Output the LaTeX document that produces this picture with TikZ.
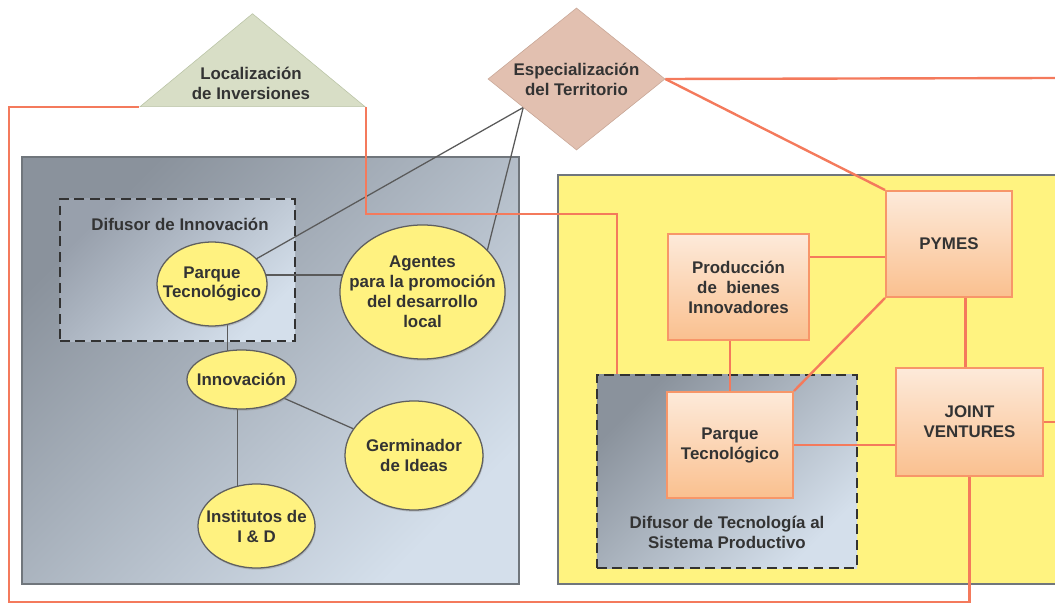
\documentclass[tikz,border=0pt]{standalone}
\usepackage{fontspec}
\setmainfont{Liberation Sans}
\usepackage{tikz}
\usetikzlibrary{
    positioning,
    shapes.geometric,
    shadows,
    calc
}
\usepackage{xcolor}
\definecolor{linkorange}{RGB}{244,122,92}
\definecolor{boxline}{RGB}{247,150,105}
\definecolor{boxtop}{RGB}{253,234,218}
\definecolor{boxbottom}{RGB}{250,192,143}
\definecolor{yellowzone}{RGB}{255,243,128}
\definecolor{bubblefill}{RGB}{255,242,128}
\definecolor{bubbleline}{RGB}{95,95,95}
\definecolor{textgray}{RGB}{51,51,51}
\definecolor{panelline}{RGB}{112,118,124}
\definecolor{steeldark}{RGB}{138,146,156}
\definecolor{steellight}{RGB}{212,223,235}
\definecolor{trifill}{RGB}{216,222,198}
\definecolor{triline}{RGB}{186,196,166}
\definecolor{diafill}{RGB}{226,192,176}
\definecolor{dialine}{RGB}{200,166,150}
\definecolor{linkgray}{RGB}{90,90,90}
\definecolor{dashgray}{RGB}{50,50,50}

\pgfdeclarelayer{panels}
\pgfdeclarelayer{links}
\pgfsetlayers{panels,links,main}

\begin{document}
\begin{tikzpicture}[
    x=0.025cm, y=-0.025cm,
    txt/.style={font=\fontsize{12}{14.2}\selectfont\bfseries, text=textgray, align=center},
    bubble/.style={ellipse, draw=bubbleline, line width=0.9pt, fill=bubblefill, inner sep=0pt,
        drop shadow={shadow xshift=0.6pt, shadow yshift=-1.2pt, opacity=0.35}},
    unit/.style={rectangle, draw=boxline, line width=1.4pt, top color=boxtop, bottom color=boxbottom,
        inner sep=0pt, txt, drop shadow={shadow xshift=0.6pt, shadow yshift=-0.8pt, opacity=0.2}},
    steelpanel/.style={rectangle, draw=panelline, line width=1.2pt, top color=steeldark,
        bottom color=steellight, shading angle=45},
    dashbox/.style={rectangle, draw=dashgray, line width=1.3pt, dash pattern=on 7pt off 4pt},
    graylink/.style={draw=linkgray, line width=0.9pt},
    orangelink/.style={draw=linkorange, line width=1.7pt}
]
\useasboundingbox (0,0) rectangle (1055,603);

% Panels
\begin{pgfonlayer}{panels}
\node[steelpanel, minimum width=12.425cm, minimum height=10.675cm] (innozone) at (270.5,370.5) {};
\node[rectangle, fill=yellowzone, minimum width=12.425cm, minimum height=10.225cm] (prodzone) at (806.5,379.5) {};
\draw[draw=panelline, line width=1.2pt] (prodzone.north east) -- (prodzone.north west)
    -- (prodzone.south west) -- (prodzone.south east);
\node[dashbox, top color={rgb,255:red,152;green,160;blue,172}, bottom color=steellight, shading angle=45,
    minimum width=5.875cm, minimum height=3.55cm] (difL) at (177.5,270) {};
\node[dashbox, top color=steeldark, bottom color=steellight, shading angle=45,
    minimum width=6.5cm, minimum height=4.825cm] (difR) at (727,471.5) {};
\end{pgfonlayer}

% Top markers
\node[isosceles triangle, isosceles triangle stretches=true, shape border rotate=90,
    draw=triline, fill=trifill, inner sep=0pt, minimum width=5.625cm, minimum height=2.325cm,
    anchor=lower side] (loc) at (252.5,107) {};
\node[txt] (loctxt) at (251,83) {Localización\\de Inversiones};
\node[diamond, aspect=1.25, draw=dialine, fill=diafill, inner sep=0pt,
    minimum width=4.425cm, minimum height=3.55cm, txt] (esp) at (576.5,79) {Especialización\\del Territorio};

% Innovation side
\node[txt] (difLtxt) at (180,224) {Difusor de Innovación};
\node[bubble, minimum width=2.75cm, minimum height=2.1cm,
    label={[txt]center:{Parque\\Tecnológico}}] (parqueA) at (212,284) {};
\node[bubble, minimum width=4.125cm, minimum height=3.35cm,
    label={[txt]center:{Agentes\\para la promoción\\del desarrollo\\local}}] (agentes) at (422.5,292) {};
\node[bubble, minimum width=2.725cm, minimum height=1.475cm,
    label={[txt]center:{Innovación}}] (innov) at (241.5,379.5) {};
\node[bubble, minimum width=3.45cm, minimum height=2.725cm,
    label={[txt]center:{Germinador\\de Ideas}}] (germ) at (414,455.5) {};
\node[bubble, minimum width=2.925cm, minimum height=2.1cm,
    label={[txt]center:{Institutos de\\I \& D}}] (inst) at (256.5,526) {};

% Productive side
\node[unit, minimum width=3.15cm, minimum height=2.65cm] (pymes) at (949,244) {PYMES};
\node[unit, minimum width=3.525cm, minimum height=2.65cm] (prod) at (738.5,287) {Producción\\de\ \ bienes\\Innovadores};
\node[unit, minimum width=3.15cm, minimum height=2.65cm] (parqueR) at (730,445) {Parque\\Tecnológico};
\node[unit, minimum width=3.675cm, minimum height=2.7cm] (jv) at (969.5,422) {JOINT\\VENTURES};
\node[txt] (difRtxt) at (727,532) {Difusor de Tecnología al\\Sistema Productivo};

% Free ends
\coordinate (espPt) at ($(esp.west)!0.4!(esp.south)$);
\coordinate (exitE) at (1055,78);
\coordinate (exitJ) at (1055,422);
\coordinate (loopSW) at (9,602);
\coordinate (jog) at (617,214);

% Links
\begin{pgfonlayer}{links}
\draw[graylink] (parqueA.center) -- (espPt);
\draw[graylink] (agentes.33) -- (espPt);
\draw[graylink] ([yshift=0.225cm]parqueA.center) -- ([yshift=0.225cm]parqueA.center -| agentes.center);
\draw[graylink] ([xshift=-0.35cm]innov.center) -- ([xshift=-0.35cm]innov.center |- parqueA.center);
\draw[graylink] (innov) -- (germ);
\draw[graylink] ([xshift=-0.1cm]innov.center) -- ([xshift=-0.1cm]innov.center |- inst.center);

\draw[orangelink] (esp.east) -- (exitE);
\draw[orangelink] (esp.east) -- (pymes.north west);
\draw[orangelink] ([yshift=-0.325cm]pymes.center) -- ([yshift=-0.325cm]pymes.center -| prod.center);
\draw[orangelink] (pymes.south west) -- (parqueR.north east);
\draw[orangelink] (parqueR.center) -- (parqueR.center |- prod.center);
\draw[orangelink] (parqueR.center) -- (parqueR.center -| jv.center);
\draw[orangelink] ([xshift=-0.1cm]jv.center) -- ([xshift=-0.1cm]jv.center |- pymes.center);
\draw[orangelink] (jv.center) -- (exitJ);
\draw[orangelink] (loc.left corner) -| (loopSW) -| (jv.center);
\draw[orangelink] (loc.right corner) |- (jog) -- (jog |- difR.north);
\end{pgfonlayer}

\end{tikzpicture}
\end{document}
